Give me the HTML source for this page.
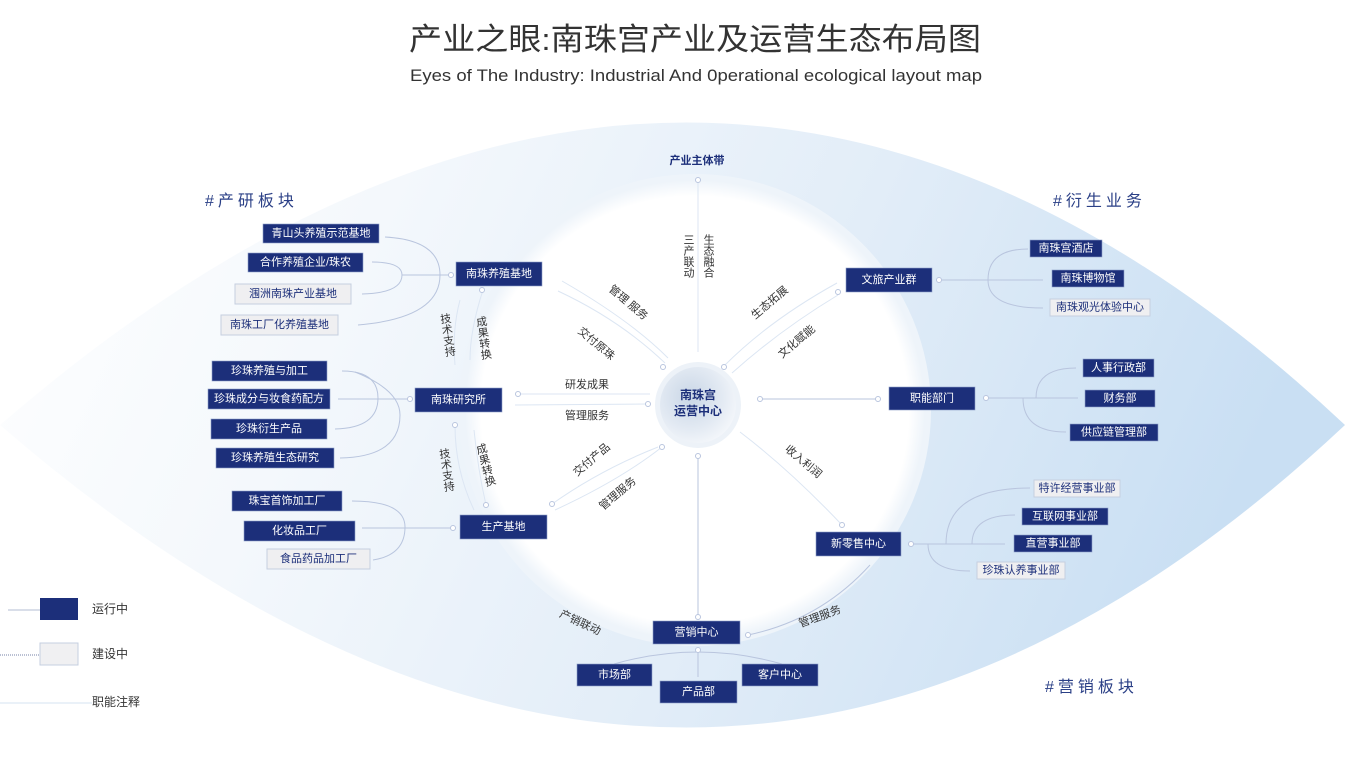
<!DOCTYPE html>
<html><head><meta charset="utf-8"><style>
html,body{margin:0;padding:0;background:#fff;}
svg{display:block;font-family:"Liberation Sans","Noto Sans CJK SC",sans-serif;}
.b{fill:#1c2f7a;stroke:#8ea0c8;stroke-width:0.6}
.g{fill:#efeff1;stroke:#c6cfe0;stroke-width:1}
.bt{fill:#fff;font-size:11px;text-anchor:middle;dominant-baseline:central}
.gt{fill:#1c2f7a;font-size:11px;text-anchor:middle;dominant-baseline:central}
.lt{fill:#333;font-size:11px;text-anchor:middle;dominant-baseline:central}
.ln{stroke:#b9c5de;stroke-width:1;fill:none}
.lf{stroke:#dce6f3;stroke-width:1;fill:none}
.dot{fill:#fff;stroke:#b9c5de;stroke-width:1}
.sec{fill:#2a3f86;font-size:16px;letter-spacing:4px}
</style></head><body>
<svg width="1360" height="780" viewBox="0 0 1360 780" xmlns="http://www.w3.org/2000/svg">
<defs>
<linearGradient id="eye" x1="0" y1="0" x2="1" y2="0.2">
<stop offset="0" stop-color="#ffffff"/>
<stop offset="0.3" stop-color="#f4f8fc"/>
<stop offset="0.65" stop-color="#e2edf8"/>
<stop offset="1" stop-color="#c9dff3"/>
</linearGradient>
<radialGradient id="ctr" cx="0.4" cy="0.4" r="0.7">
<stop offset="0" stop-color="#c9d6e6"/>
<stop offset="0.6" stop-color="#e3eaf3"/>
<stop offset="1" stop-color="#f7f9fc"/>
</radialGradient>
<radialGradient id="ring" cx="0.5" cy="0.5" r="0.5">
<stop offset="0.93" stop-color="#ffffff"/>
<stop offset="1" stop-color="#eef4fa"/>
</radialGradient>
</defs>
<rect width="1360" height="780" fill="#fff"/>
<path d="M0,425 Q700,-180 1345,425 Q700,1030 0,425 Z" fill="url(#eye)"/>
<circle cx="695" cy="410" r="236" fill="#eef4fa"/>
<circle cx="695" cy="410" r="230" fill="url(#ring)"/>

<text x="695" y="50" text-anchor="middle" font-size="31" fill="#333" textLength="572" lengthAdjust="spacingAndGlyphs">产业之眼:南珠宫产业及运营生态布局图</text>
<text x="696" y="81" text-anchor="middle" font-size="17" fill="#333" textLength="572" lengthAdjust="spacingAndGlyphs">Eyes of The Industry: Industrial And 0perational ecological layout map</text>

<text class="sec" x="205" y="206">#产研板块</text>
<text class="sec" x="1053" y="206">#衍生业务</text>
<text class="sec" x="1045" y="692">#营销板块</text>
<text x="697" y="161" text-anchor="middle" font-size="11" font-weight="bold" fill="#1c2f7a" dominant-baseline="central">产业主体带</text>

<line class="lf" x1="698" y1="180" x2="698" y2="352"/>
<circle class="dot" cx="698" cy="180" r="2.5"/>
<path class="lf" d="M558,291 Q620,320 665,363"/><circle class="dot" cx="663" cy="367" r="2.5"/>
<path class="lf" d="M562,281 Q630,320 668,358"/>
<path class="lf" d="M837,283 Q770,320 725,365"/><circle class="dot" cx="724" cy="367" r="2.5"/>
<path class="lf" d="M838,295 Q780,330 732,373"/><circle class="dot" cx="838" cy="292" r="2.5"/>
<line class="lf" x1="518" y1="394" x2="650" y2="394"/><circle class="dot" cx="518" cy="394" r="2.5"/>
<line class="lf" x1="515" y1="405" x2="648" y2="404"/><circle class="dot" cx="648" cy="404" r="2.5"/>
<line class="ln" x1="760" y1="399" x2="878" y2="399"/><circle class="dot" cx="760" cy="399" r="2.5"/><circle class="dot" cx="878" cy="399" r="2.5"/>
<path class="lf" d="M552,504 Q600,470 658,447"/><circle class="dot" cx="552" cy="504" r="2.5"/>
<path class="lf" d="M555,510 Q620,480 662,447"/><circle class="dot" cx="662" cy="447" r="2.5"/>
<line class="ln" x1="698" y1="456" x2="698" y2="617"/><circle class="dot" cx="698" cy="456" r="2.5"/><circle class="dot" cx="698" cy="617" r="2.5"/>
<path class="lf" d="M740,432 Q790,470 842,525"/><circle class="dot" cx="842" cy="525" r="2.5"/>
<path class="ln" d="M748,635 Q820,620 870,565" stroke="#c9d6e8" stroke-width="2"/><circle class="dot" cx="748" cy="635" r="2.5"/>
<path class="lf" d="M483,290 Q470,330 470,360"/><circle class="dot" cx="482" cy="290" r="2.5"/>
<path class="lf" d="M460,300 Q452,330 455,365"/>
<path class="lf" d="M455,425 Q455,470 474,510"/><circle class="dot" cx="455" cy="425" r="2.5"/>
<path class="lf" d="M474,430 Q478,470 486,505"/><circle class="dot" cx="486" cy="505" r="2.5"/>

<text class="lt" x="688" y="256" writing-mode="tb">三产联动</text>
<text class="lt" x="708" y="256" writing-mode="tb">生态融合</text>
<text class="lt" transform="translate(628,303) rotate(40)">管理 服务</text>
<text class="lt" transform="translate(596,344) rotate(40)">交付原珠</text>
<text class="lt" transform="translate(770,303) rotate(-40)">生态拓展</text>
<text class="lt" transform="translate(797,342) rotate(-40)">文化赋能</text>
<text class="lt" x="587" y="385">研发成果</text>
<text class="lt" x="587" y="416">管理服务</text>
<text class="lt" transform="translate(592,460) rotate(-40)">交付产品</text>
<text class="lt" transform="translate(618,494) rotate(-40)">管理服务</text>
<text class="lt" transform="translate(803,462) rotate(40)">收入利润</text>
<text class="lt" transform="translate(820,617) rotate(-20)">管理服务</text>
<text class="lt" transform="translate(580,623) rotate(25)">产销联动</text>
<text class="lt" transform="translate(447,335) rotate(-8)" writing-mode="tb">技术支持</text>
<text class="lt" transform="translate(483,338) rotate(-8)" writing-mode="tb">成果转换</text>
<text class="lt" transform="translate(446,470) rotate(-8)" writing-mode="tb">技术支持</text>
<text class="lt" transform="translate(485,465) rotate(-15)" writing-mode="tb">成果转换</text>

<circle cx="698" cy="405" r="43" fill="#edf2f8"/>
<circle cx="698" cy="405" r="38" fill="url(#ctr)"/>
<text x="698" y="395" text-anchor="middle" font-size="12" font-weight="bold" fill="#1c2f7a" dominant-baseline="central">南珠宫</text>
<text x="698" y="411" text-anchor="middle" font-size="12" font-weight="bold" fill="#1c2f7a" dominant-baseline="central">运营中心</text>

<path class="ln" d="M385,237 Q440,240 440,275 Q440,318 358,325"/>
<path class="ln" d="M372,262 Q402,262 402,275 Q402,293 362,294"/>
<line class="ln" x1="402" y1="275" x2="450" y2="275"/><circle class="dot" cx="451" cy="275" r="2.5"/>
<path class="ln" d="M342,371 Q378,371 378,398 Q378,428 335,429"/>
<path class="ln" d="M355,372 Q400,390 400,415 Q400,457 340,458"/>
<line class="ln" x1="338" y1="399" x2="408" y2="399"/><circle class="dot" cx="410" cy="399" r="2.5"/>
<path class="ln" d="M352,501 Q405,501 405,527 Q405,555 373,560"/>
<line class="ln" x1="362" y1="528" x2="452" y2="528"/><circle class="dot" cx="453" cy="528" r="2.5"/>

<line class="ln" x1="937" y1="280" x2="1043" y2="280" stroke-width="2"/><circle class="dot" cx="939" cy="280" r="2.5"/>
<path class="ln" d="M1028,249 Q988,249 988,280 Q988,308 1043,308"/>
<line class="ln" x1="985" y1="398" x2="1078" y2="398"/><circle class="dot" cx="986" cy="398" r="2.5"/>
<path class="ln" d="M1076,368 Q1036,368 1036,398"/>
<path class="ln" d="M1023,398 Q1023,432 1066,432"/>
<line class="ln" x1="908" y1="544" x2="1005" y2="544"/><circle class="dot" cx="911" cy="544" r="2.5"/>
<path class="ln" d="M1030,488 Q946,488 946,544"/>
<path class="ln" d="M1015,515 Q972,515 972,544"/>
<path class="ln" d="M928,544 Q928,571 970,571"/>
<path class="ln" d="M614,664 Q698,640 782,664"/>
<line class="ln" x1="698" y1="650" x2="698" y2="677" stroke-width="2"/><circle class="dot" cx="698" cy="650" r="2.5"/>

<g>
<rect class="b" x="456" y="262" width="86" height="24"/><text class="bt" x="499" y="274">南珠养殖基地</text>
<rect class="b" x="263" y="224" width="116" height="19"/><text class="bt" x="321" y="233.5">青山头养殖示范基地</text>
<rect class="b" x="248" y="253" width="115" height="19"/><text class="bt" x="305.5" y="262.5">合作养殖企业/珠农</text>
<rect class="g" x="235" y="284" width="116" height="20"/><text class="gt" x="293" y="294">涠洲南珠产业基地</text>
<rect class="g" x="221" y="315" width="117" height="20"/><text class="gt" x="279.5" y="325">南珠工厂化养殖基地</text>
<rect class="b" x="415" y="388" width="87" height="24"/><text class="bt" x="458.5" y="400">南珠研究所</text>
<rect class="b" x="212" y="361" width="115" height="20"/><text class="bt" x="269.5" y="371">珍珠养殖与加工</text>
<rect class="b" x="208" y="389" width="122" height="20"/><text class="bt" x="269" y="399">珍珠成分与妆食药配方</text>
<rect class="b" x="211" y="419" width="116" height="20"/><text class="bt" x="269" y="429">珍珠衍生产品</text>
<rect class="b" x="216" y="448" width="118" height="20"/><text class="bt" x="275" y="458">珍珠养殖生态研究</text>
<rect class="b" x="460" y="515" width="87" height="24"/><text class="bt" x="503.5" y="527">生产基地</text>
<rect class="b" x="232" y="491" width="110" height="20"/><text class="bt" x="287" y="501">珠宝首饰加工厂</text>
<rect class="b" x="244" y="521" width="111" height="20"/><text class="bt" x="299.5" y="531">化妆品工厂</text>
<rect class="g" x="267" y="549" width="103" height="20"/><text class="gt" x="318.5" y="559">食品药品加工厂</text>
<rect class="b" x="846" y="268" width="86" height="24"/><text class="bt" x="889" y="280">文旅产业群</text>
<rect class="b" x="1030" y="240" width="72" height="17"/><text class="bt" x="1066" y="248.5">南珠宫酒店</text>
<rect class="b" x="1052" y="270" width="72" height="17"/><text class="bt" x="1088" y="278.5">南珠博物馆</text>
<rect class="g" x="1050" y="299" width="100" height="17"/><text class="gt" x="1100" y="307.5">南珠观光体验中心</text>
<rect class="b" x="889" y="387" width="86" height="23"/><text class="bt" x="932" y="398.5">职能部门</text>
<rect class="b" x="1083" y="359" width="71" height="18"/><text class="bt" x="1118.5" y="368">人事行政部</text>
<rect class="b" x="1085" y="390" width="70" height="17"/><text class="bt" x="1120" y="398.5">财务部</text>
<rect class="b" x="1070" y="424" width="88" height="17"/><text class="bt" x="1114" y="432.5">供应链管理部</text>
<rect class="b" x="816" y="532" width="85" height="24"/><text class="bt" x="858.5" y="544">新零售中心</text>
<rect class="g" x="1034" y="480" width="86" height="17"/><text class="gt" x="1077" y="488.5">特许经营事业部</text>
<rect class="b" x="1022" y="508" width="86" height="17"/><text class="bt" x="1065" y="516.5">互联网事业部</text>
<rect class="b" x="1014" y="535" width="78" height="17"/><text class="bt" x="1053" y="543.5">直营事业部</text>
<rect class="g" x="977" y="562" width="88" height="17"/><text class="gt" x="1021" y="570.5">珍珠认养事业部</text>
<rect class="b" x="653" y="621" width="87" height="23"/><text class="bt" x="696.5" y="632.5">营销中心</text>
<rect class="b" x="577" y="664" width="75" height="22"/><text class="bt" x="614.5" y="675">市场部</text>
<rect class="b" x="660" y="681" width="77" height="22"/><text class="bt" x="698.5" y="692">产品部</text>
<rect class="b" x="742" y="664" width="76" height="22"/><text class="bt" x="780" y="675">客户中心</text>
</g>

<line x1="8" y1="610" x2="40" y2="610" stroke="#9aa6c4" stroke-width="0.8"/>
<rect x="40" y="598" width="38" height="22" fill="#1c2f7a"/>
<text x="92" y="609" font-size="12" fill="#333" dominant-baseline="central">运行中</text>
<line x1="0" y1="655" x2="46" y2="655" stroke="#4a5a8a" stroke-width="0.8" stroke-dasharray="1,1"/>
<rect x="40" y="643" width="38" height="22" fill="#f0f0f2" stroke="#c6cfe0"/>
<text x="92" y="654" font-size="12" fill="#333" dominant-baseline="central">建设中</text>
<line x1="0" y1="703" x2="92" y2="703" stroke="#d4e3f2" stroke-width="1"/>
<text x="92" y="702" font-size="12" fill="#333" dominant-baseline="central">职能注释</text>
</svg>
</body></html>
